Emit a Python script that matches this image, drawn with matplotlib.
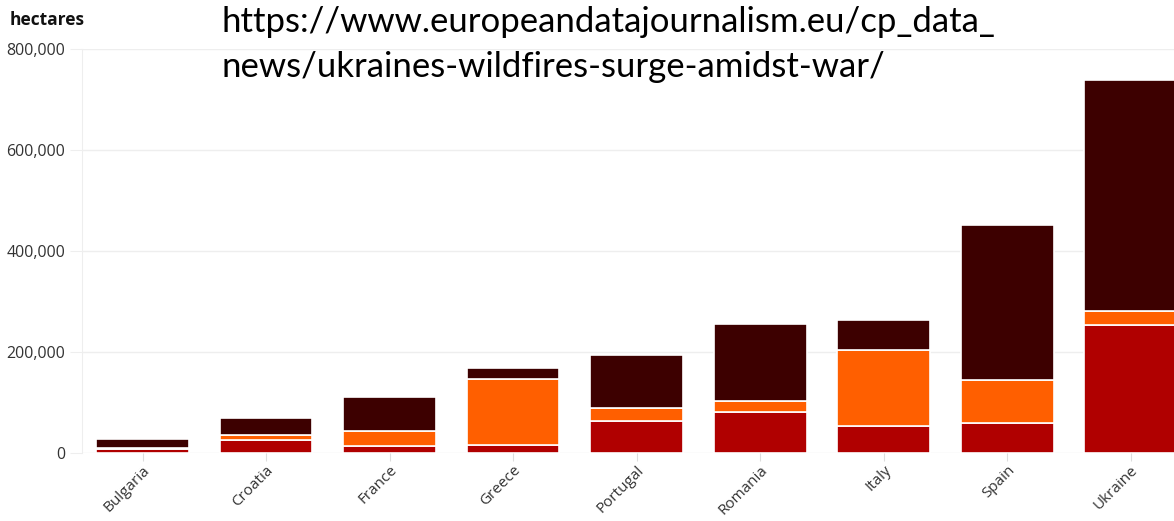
import numpy as np
import matplotlib
matplotlib.use("Agg")
from matplotlib import pyplot as plt
from matplotlib.ticker import FuncFormatter

# burnt area by country, hectares, three stacked components
countries = ["Bulgaria", "Croatia", "France", "Greece", "Portugal",
             "Romania", "Italy", "Spain", "Ukraine"]
red_part = [8000, 25000, 13000, 15000, 63000, 81000, 53500, 60000, 254000]
orange_part = [2000, 10000, 31000, 131000, 26000, 21000, 150000, 85000, 28000]
dark_part = [17000, 34000, 67000, 23000, 105000, 154000, 60000, 307000, 456000]

colors = ["#b00000", "#ff5f00", "#3d0000"]
yticks = [0, 200000, 400000, 600000, 800000]

plt.rcParams["font.family"] = ["Open Sans", "DejaVu Sans"]

fig = plt.figure(figsize=(11.74, 5.21), dpi=100)
ax = fig.add_axes([82 / 1174, 68 / 521, 1 - 82 / 1174, (453 - 49) / 521])

x = np.arange(len(countries))
bottom = np.zeros(len(countries))
for vals, c in zip([red_part, orange_part, dark_part], colors):
    ax.bar(x, vals, 0.75, bottom=bottom, color=c, edgecolor="white",
           linewidth=1.2, zorder=3)
    bottom += np.array(vals)

ax.set_ylim(0, 800000)
ax.set_xlim(-0.49, 8.35)
ax.set_yticks(yticks)
ax.yaxis.set_major_formatter(FuncFormatter(lambda v, p: f"{int(v):,}"))
ax.yaxis.grid(True, color="#eeeeee", linewidth=1, zorder=0)
ax.set_xticks(x)
ax.set_xticklabels(countries, rotation=45, ha="right", rotation_mode="anchor")

for s in ["top", "right", "bottom"]:
    ax.spines[s].set_visible(False)
ax.spines["left"].set_color("#eeeeee")
ax.tick_params(axis="y", length=9, color="#eeeeee", labelsize=11.5,
               labelcolor="#333333", pad=3)
ax.tick_params(axis="x", length=6, color="#dddddd", labelsize=11,
               labelcolor="#333333", pad=1)

fig.text(10 / 1174, 1 - 20 / 521, "hectares", fontsize=12.5, fontweight="bold",
         va="center", ha="left", color="#111111")

fig.text(222 / 1174, 1 - 22 / 521, "https://www.europeandatajournalism.eu/cp_data_",
         fontsize=25, va="center", ha="left", color="black", family=["Lato", "DejaVu Sans"])
fig.text(222 / 1174, 1 - 67 / 521, "news/ukraines-wildfires-surge-amidst-war/",
         fontsize=25, va="center", ha="left", color="black", family=["Lato", "DejaVu Sans"])

fig.savefig("out.png", dpi=100)
